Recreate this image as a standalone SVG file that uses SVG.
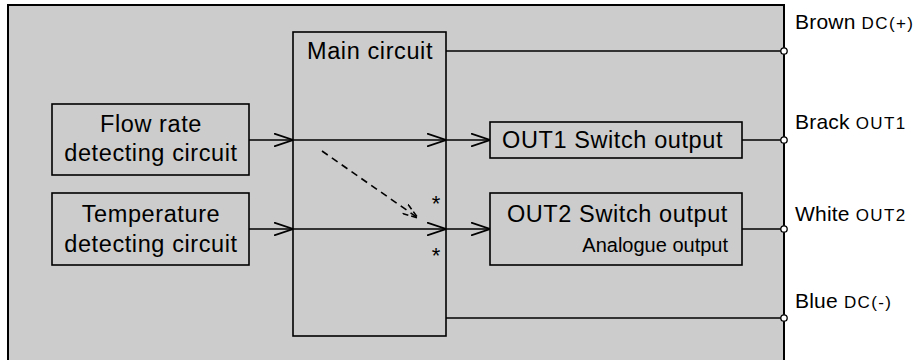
<svg xmlns="http://www.w3.org/2000/svg" width="921" height="360" viewBox="0 0 921 360">
<defs>
<marker id="v" viewBox="0 0 19 14" refX="19" refY="7" markerWidth="19" markerHeight="14" markerUnits="userSpaceOnUse" orient="auto">
<path d="M0,0.5 L19,7 L0,13.5" fill="none" stroke="#000" stroke-width="1.7"/>
</marker>
<marker id="vd" viewBox="0 0 16 12" refX="16" refY="6" markerWidth="16" markerHeight="12" markerUnits="userSpaceOnUse" orient="auto">
<path d="M0,0.5 L16,6 L0,11.5" fill="none" stroke="#000" stroke-width="1.6" stroke-dasharray="6,3"/>
</marker>
</defs>
<style>
.box{fill:#cccccc;stroke:#000;stroke-width:1.6}
.ln{fill:none;stroke:#000;stroke-width:1.6}
.t{font-family:"Liberation Sans",Arial,sans-serif;font-size:23.5px;fill:#000;letter-spacing:0.6px}
.lbl{font-size:21px;letter-spacing:0.2px}
.s{font-size:17px;letter-spacing:1.4px}
.ast{font-size:22px;letter-spacing:0}
.term{fill:#fff;stroke:#000;stroke-width:1.3}
</style>
<rect width="921" height="360" fill="#fff"/>
<rect id="housing" x="8" y="5" width="776" height="370" fill="#cccccc" stroke="#000" stroke-width="2"/>
<g id="connectors">
<line class="ln" x1="249" y1="140" x2="293" y2="140" marker-end="url(#v)"/>
<line class="ln" x1="293" y1="140" x2="446" y2="140" marker-end="url(#v)"/>
<line class="ln" x1="446" y1="140" x2="490" y2="140" marker-end="url(#v)"/>
<line class="ln" x1="249" y1="229" x2="293" y2="229" marker-end="url(#v)"/>
<line class="ln" x1="293" y1="229" x2="446" y2="229" marker-end="url(#v)"/>
<line class="ln" x1="446" y1="229" x2="490" y2="229" marker-end="url(#v)"/>
<line class="ln" x1="322" y1="151" x2="418" y2="218" stroke-dasharray="7,5" marker-end="url(#vd)"/>
<line class="ln" x1="446" y1="51" x2="784" y2="51"/>
<line class="ln" x1="742" y1="140" x2="784" y2="140"/>
<line class="ln" x1="742" y1="229" x2="784" y2="229"/>
<line class="ln" x1="446" y1="318" x2="784" y2="318"/>
</g>
<g id="main">
<rect class="box" x="293" y="32" width="153" height="304" style="fill:none"/>
<text class="t" x="307" y="59">Main circuit</text>
<text class="t ast" x="436" y="211" text-anchor="middle">*</text>
<text class="t ast" x="436" y="263" text-anchor="middle">*</text>
</g>
<g id="flow">
<rect class="box" x="52" y="104" width="197" height="71"/>
<text class="t" x="151" y="132" text-anchor="middle">Flow rate</text>
<text class="t" x="151" y="161" text-anchor="middle">detecting circuit</text>
</g>
<g id="temp">
<rect class="box" x="52" y="193" width="197" height="72"/>
<text class="t" x="151" y="222" text-anchor="middle">Temperature</text>
<text class="t" x="151" y="252" text-anchor="middle">detecting circuit</text>
</g>
<g id="out1">
<rect class="box" x="490" y="122" width="252" height="36"/>
<text class="t" x="502" y="148">OUT1 Switch output</text>
</g>
<g id="out2">
<rect class="box" x="490" y="193" width="252" height="72"/>
<text class="t" x="728" y="222" text-anchor="end">OUT2 Switch output</text>
<text class="t" x="728" y="252" text-anchor="end" style="font-size:20px;letter-spacing:0">Analogue output</text>
</g>
<g id="terminals">
<circle class="term" cx="784" cy="51" r="3.2"/>
<circle class="term" cx="784" cy="140" r="3.2"/>
<circle class="term" cx="784" cy="229" r="3.2"/>
<circle class="term" cx="784" cy="318" r="3.2"/>
<text class="t lbl" x="795" y="29">Brown <tspan class="s">DC(+)</tspan></text>
<text class="t lbl" x="795" y="129">Brack <tspan class="s">OUT1</tspan></text>
<text class="t lbl" x="795" y="221">White <tspan class="s">OUT2</tspan></text>
<text class="t lbl" x="795" y="308">Blue <tspan class="s">DC(-)</tspan></text>
</g>
</svg>
